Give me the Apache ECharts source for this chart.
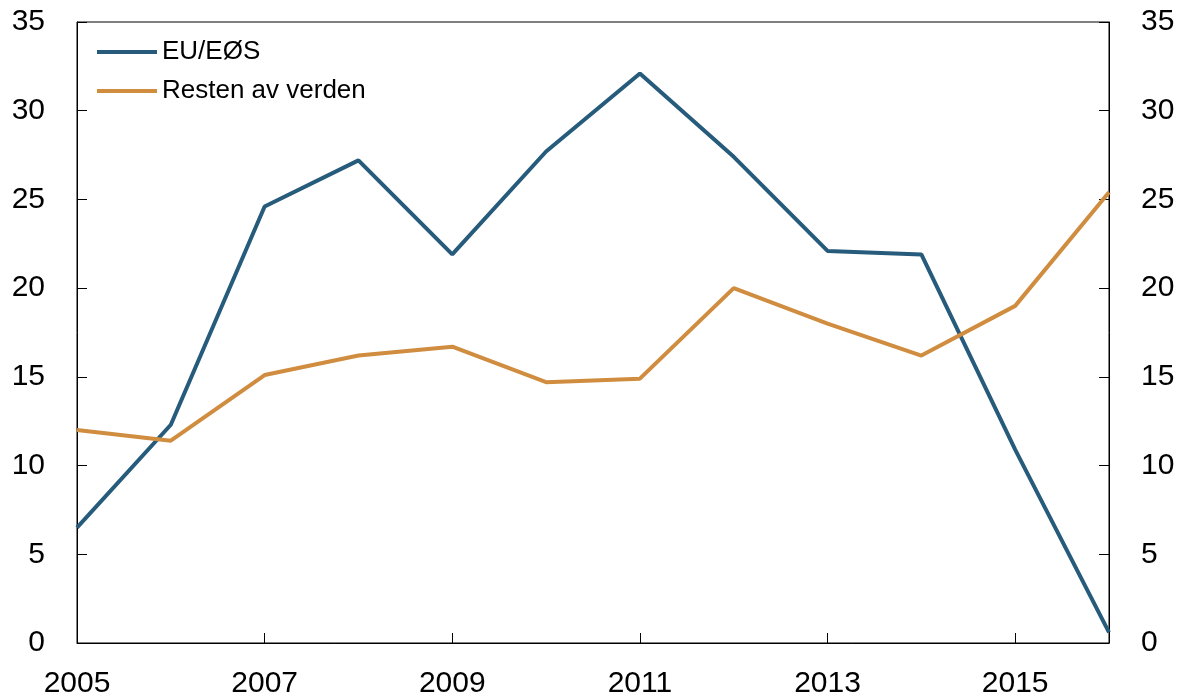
<!DOCTYPE html>
<html>
<head>
<meta charset="utf-8">
<script src="https://cdn.jsdelivr.net/npm/echarts@6/dist/echarts.min.js"></script>
<style>
html,body{margin:0;padding:0;background:#fff;}
#chart{width:1180px;height:700px;}
</style>
</head>
<body>
<div id="chart"></div>
<script>
const years = [2005, 2006, 2007, 2008, 2009, 2010, 2011, 2012, 2013, 2014, 2015, 2016];
const euEos = [6.5, 12.3, 24.6, 27.2, 21.9, 27.7, 32.1, 27.4, 22.1, 21.9, 10.9, 0.6];
const restenAvVerden = [12.0, 11.4, 15.1, 16.2, 16.7, 14.7, 14.9, 20.0, 18.0, 16.2, 19.0, 25.4];
const seriesNames = ['EU/EØS', 'Resten av verden'];
const yTicks = [0, 5, 10, 15, 20, 25, 30, 35];

const font = 'Liberation Sans, Arial, Helvetica, sans-serif';
const chart = echarts.init(document.getElementById('chart'));
const yAxisBase = {
  type: 'value', min: yTicks[0], max: yTicks[yTicks.length - 1], interval: 5,
  axisLine: { show: true, lineStyle: { color: '#000', width: 1 } },
  axisTick: { show: true, inside: true, length: 10, lineStyle: { color: '#000' } },
  axisLabel: { color: '#000', fontSize: 30, fontFamily: font, margin: 32 },
  splitLine: { show: false }
};
chart.setOption({
  animation: false,
  backgroundColor: '#fff',
  grid: { left: 77, right: 71, top: 22, bottom: 57, show: true, borderColor: '#000', borderWidth: 1, backgroundColor: 'transparent' },
  legend: {
    orient: 'vertical', left: 97, top: 39, padding: 0, itemWidth: 60, itemHeight: 4, itemGap: 13,
    icon: 'rect',
    textStyle: { fontSize: 26, fontFamily: font, color: '#000' },
    data: seriesNames
  },
  xAxis: {
    type: 'value', min: years[0], max: years[years.length - 1], interval: 2,
    axisLine: { show: true, lineStyle: { color: '#000', width: 1 } },
    axisTick: { show: true, inside: true, length: 10, lineStyle: { color: '#000' } },
    axisLabel: { color: '#000', fontSize: 30, fontFamily: font, margin: 26, showMaxLabel: false,
      formatter: v => (v === years[years.length - 1] ? '' : String(v)) },
    splitLine: { show: false }
  },
  yAxis: [
    Object.assign({}, yAxisBase, { position: 'left' }),
    Object.assign({}, yAxisBase, { position: 'right' })
  ],
  series: [
    { name: seriesNames[0], type: 'line', data: years.map((y, i) => [y, euEos[i]]),
      showSymbol: false, symbol: 'none', lineStyle: { color: '#265b7b', width: 4 }, itemStyle: { color: '#265b7b' } },
    { name: seriesNames[1], type: 'line', data: years.map((y, i) => [y, restenAvVerden[i]]),
      showSymbol: false, symbol: 'none', lineStyle: { color: '#d08c3f', width: 4 }, itemStyle: { color: '#d08c3f' } }
  ]
});
</script>
</body>
</html>
